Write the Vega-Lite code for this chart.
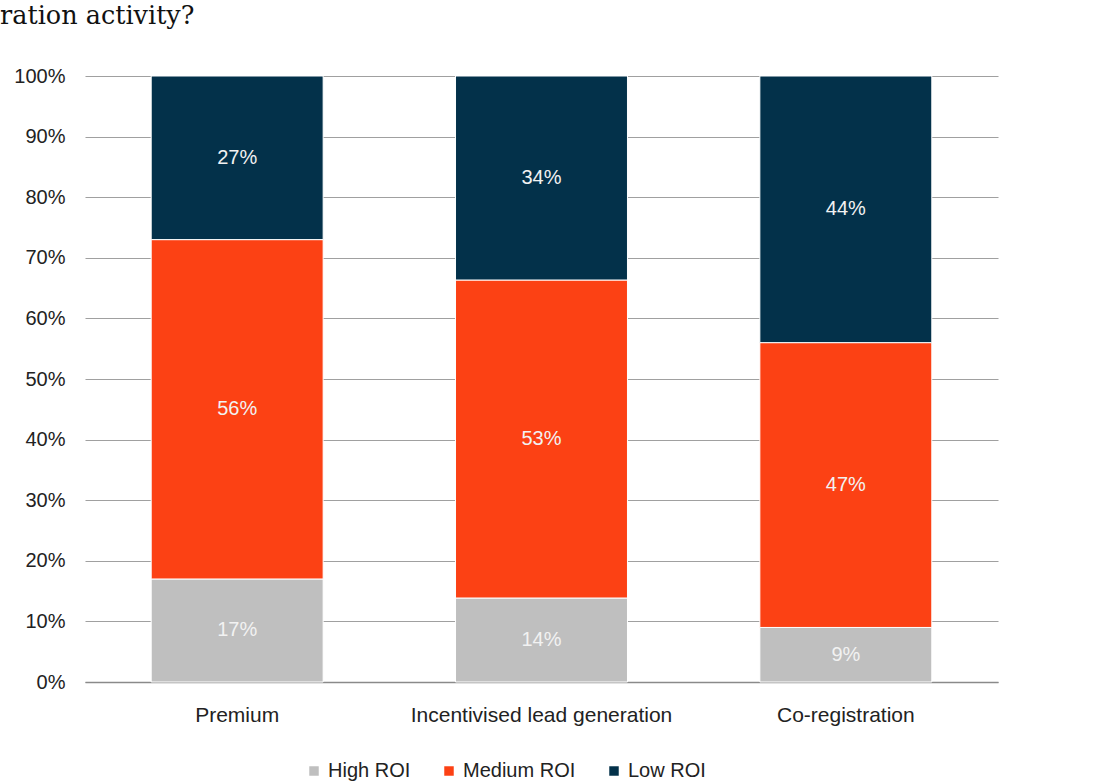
{
  "$schema": "https://vega.github.io/schema/vega-lite/v6.json",
  "width": 913,
  "height": 606,
  "autosize": {"type": "none"},
  "padding": {"left": 85, "top": 76, "right": 111, "bottom": 99},
  "background": "white",
  "title": {
    "text": "ration activity?",
    "anchor": "start",
    "frame": "group",
    "dx": -85,
    "offset": 37,
    "font": "DejaVu Serif",
    "fontSize": 25.5,
    "fontWeight": "normal",
    "color": "#111111"
  },
  "config": {
    "view": {"stroke": null},
    "font": "Liberation Sans"
  },
  "data": {
    "values": [
      {"category": "Premium", "roi": "High ROI", "ord": 1, "value": 17},
      {"category": "Premium", "roi": "Medium ROI", "ord": 2, "value": 56},
      {"category": "Premium", "roi": "Low ROI", "ord": 3, "value": 27},
      {"category": "Incentivised lead generation", "roi": "High ROI", "ord": 1, "value": 14},
      {"category": "Incentivised lead generation", "roi": "Medium ROI", "ord": 2, "value": 53},
      {"category": "Incentivised lead generation", "roi": "Low ROI", "ord": 3, "value": 34},
      {"category": "Co-registration", "roi": "High ROI", "ord": 1, "value": 9},
      {"category": "Co-registration", "roi": "Medium ROI", "ord": 2, "value": 47},
      {"category": "Co-registration", "roi": "Low ROI", "ord": 3, "value": 44}
    ]
  },
  "transform": [
    {"stack": "value", "groupby": ["category"], "sort": [{"field": "ord"}], "offset": "normalize", "as": ["y0", "y1"]},
    {"calculate": "(datum.y0 + datum.y1) / 2", "as": "ymid"},
    {"calculate": "datum.value + '%'", "as": "lbl"}
  ],
  "encoding": {
    "x": {
      "field": "category",
      "type": "nominal",
      "sort": ["Premium", "Incentivised lead generation", "Co-registration"],
      "scale": {"paddingInner": 0.435, "paddingOuter": 0.2175},
      "axis": {
        "title": null,
        "labelAngle": 0,
        "labelFontSize": 21,
        "labelLimit": 500,
        "labelColor": "#222222",
        "labelPadding": 22,
        "ticks": false,
        "domainColor": "#8a8a8a",
        "domainWidth": 1.5,
        "grid": false
      }
    }
  },
  "layer": [
    {
      "mark": {"type": "bar", "stroke": "white", "strokeWidth": 1},
      "encoding": {
        "y": {
          "field": "y0",
          "type": "quantitative",
          "scale": {"domain": [0, 1]},
          "axis": {
            "title": null,
            "format": ".0%",
            "values": [0, 0.1, 0.2, 0.3, 0.4, 0.5, 0.6, 0.7, 0.8, 0.9, 1],
            "labelFontSize": 20,
            "labelColor": "#222222",
            "labelPadding": 20,
            "ticks": false,
            "domain": false,
            "gridColor": "#a0a0a0",
            "gridWidth": 1.2
          }
        },
        "y2": {"field": "y1"},
        "color": {
          "field": "roi",
          "type": "nominal",
          "scale": {
            "domain": ["High ROI", "Medium ROI", "Low ROI"],
            "range": ["#bfbfbf", "#fc4114", "#03314a"]
          },
          "legend": {
            "title": null,
            "orient": "none",
            "legendX": 219,
            "legendY": 685,
            "direction": "horizontal",
            "symbolType": "square",
            "symbolSize": 90,
            "symbolStrokeWidth": 0,
            "labelFontSize": 20,
            "labelColor": "#222222",
            "labelOffset": 4,
            "columnPadding": 28
          }
        }
      }
    },
    {
      "mark": {"type": "text", "fontSize": 20, "color": "#f2f2f2", "baseline": "middle"},
      "encoding": {
        "y": {"field": "ymid", "type": "quantitative"},
        "text": {"field": "lbl"}
      }
    }
  ]
}
